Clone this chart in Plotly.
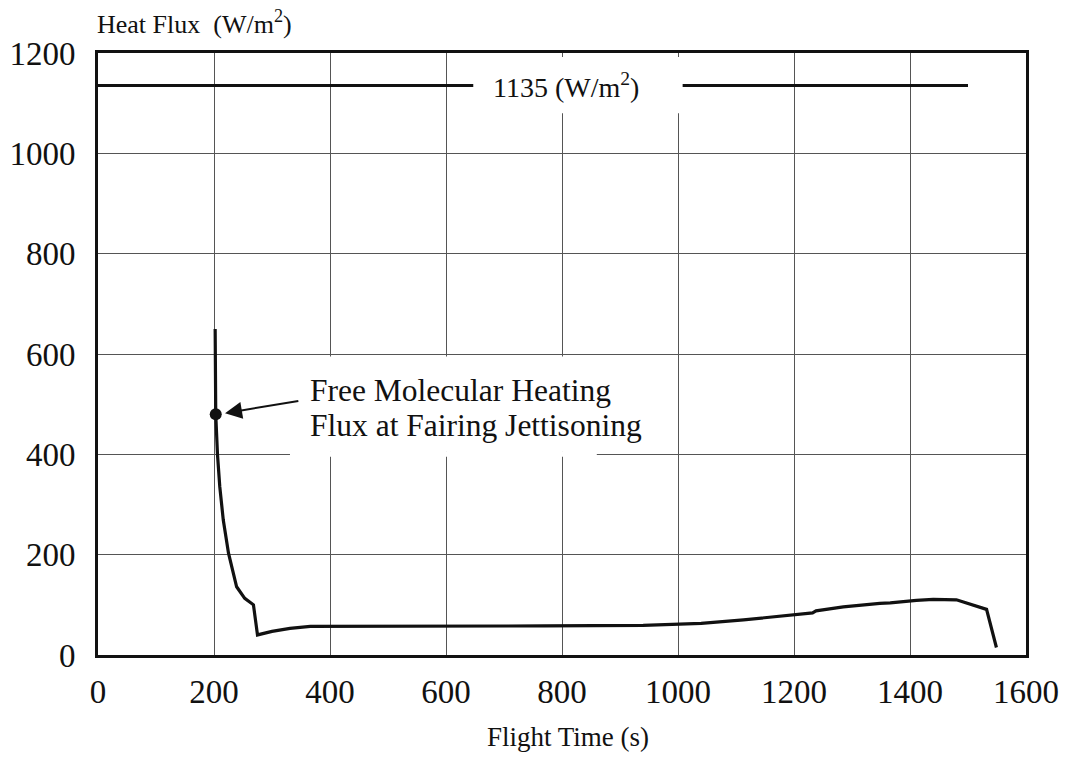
import plotly.graph_objects as go

# Data
time_s = [202, 203, 206, 210, 216, 225, 239, 253, 268, 275, 300, 331, 366, 460, 600,
          770, 940, 1040, 1113, 1200, 1232, 1238, 1285, 1348, 1366, 1411, 1440, 1480,
          1532, 1549]
heat_flux = [650, 480, 400, 335, 269, 203, 136, 113, 100, 40, 47, 53, 57, 57, 57,
             58, 59, 63, 70, 80, 84, 88, 96, 103, 104, 109, 111, 110, 91, 15]

limit_x = [0, 1500]
limit_y = [1135, 1135]

jettison_x = [203]
jettison_y = [480]

x_ticks = [0, 200, 400, 600, 800, 1000, 1200, 1400, 1600]
y_ticks = [0, 200, 400, 600, 800, 1000, 1200]

FONT = "Liberation Serif"

fig = go.Figure()
fig.add_trace(go.Scatter(x=limit_x, y=limit_y, mode="lines",
                         line=dict(color="#111111", width=3), hoverinfo="skip"))
fig.add_trace(go.Scatter(x=time_s, y=heat_flux, mode="lines",
                         line=dict(color="#111111", width=3.2), hoverinfo="skip"))
fig.add_trace(go.Scatter(x=jettison_x, y=jettison_y, mode="markers",
                         marker=dict(color="#111111", size=12), hoverinfo="skip"))

# white label backgrounds
fig.add_shape(type="rect", x0=647, x1=1008, y0=1080, y1=1192, xref="x", yref="y",
              fillcolor="white", line=dict(width=0), layer="above")
fig.add_shape(type="rect", x0=331, x1=969, y0=405, y1=595, xref="x", yref="y",
              fillcolor="white", line=dict(width=0), layer="above")
fig.add_shape(type="rect", x0=331, x1=860, y0=395, y1=406, xref="x", yref="y",
              fillcolor="white", line=dict(width=0), layer="above")

fig.add_annotation(x=807, y=1135, xref="x", yref="y", text="1135 (W/m<sup>2</sup>)",
                   showarrow=False, font=dict(family=FONT, size=28, color="#111111"))
fig.add_annotation(x=371, y=528, xref="x", yref="y", text="Free Molecular Heating",
                   xanchor="left", xshift=-5, showarrow=False,
                   font=dict(family=FONT, size=31.5, color="#111111"))
fig.add_annotation(x=371, y=458, xref="x", yref="y", text="Flux at Fairing Jettisoning",
                   xanchor="left", xshift=-5, showarrow=False,
                   font=dict(family=FONT, size=31.5, color="#111111"))
fig.add_annotation(x=219, y=482, xref="x", yref="y", ax=348, ay=507, axref="x", ayref="y",
                   text="", showarrow=True, arrowhead=2, arrowsize=1.7, arrowwidth=2,
                   arrowcolor="#111111")

fig.add_annotation(x=0, y=1.05, xref="paper", yref="paper", text="Heat Flux  (W/m<sup>2</sup>)",
                   xanchor="left", yanchor="middle", xshift=-3, showarrow=False,
                   font=dict(family=FONT, size=26, color="#111111"))
fig.add_annotation(x=0.506, y=-0.136, xref="paper", yref="paper", text="Flight Time (s)",
                   xanchor="center", yanchor="middle", showarrow=False,
                   font=dict(family=FONT, size=27, color="#111111"))

axis_common = dict(showline=True, linecolor="#111111", linewidth=3, mirror=True,
                   showgrid=True, gridcolor="#555555", gridwidth=1, zeroline=False,
                   tickfont=dict(family=FONT, size=33, color="#111111"), ticks="",
                   automargin=False)

fig.update_xaxes(range=[0, 1600], tickvals=x_ticks, ticktext=[str(v) for v in x_ticks],
                 ticklabelstandoff=5, **axis_common)
fig.update_yaxes(range=[0, 1200], tickvals=y_ticks, ticktext=[str(v) for v in y_ticks],
                 ticklabelstandoff=13, **axis_common)

fig.update_layout(width=1069, height=758, margin=dict(l=98, r=43, t=53, b=103),
                  paper_bgcolor="white", plot_bgcolor="white", showlegend=False)

fig.write_html("out.html")
